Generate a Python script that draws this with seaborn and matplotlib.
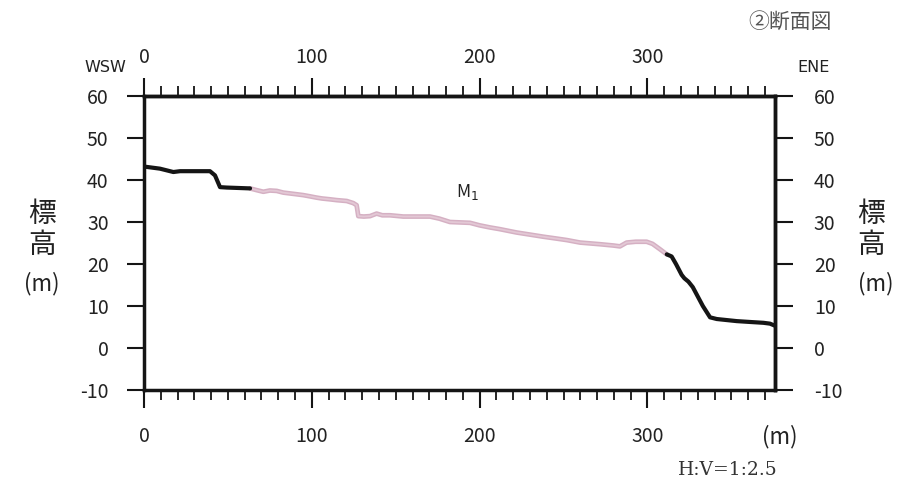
import numpy as np
import pandas as pd
import matplotlib
matplotlib.use("Agg")
import matplotlib.pyplot as plt
import seaborn as sns

# ---- data (distance in m, elevation in m) ----
west_x = [0, 9.5, 17.5, 21.5, 39.3, 42.3, 45.3, 49.3, 63.2]
west_y = [43.2, 42.7, 41.9, 42.1, 42.1, 41.1, 38.3, 38.2, 38.0]

terrace_x = [63.2, 67, 71.1, 75, 79.1, 83, 87.0, 91, 94.9, 99, 102.9, 106, 110.8,
             115, 120.8, 124.7, 126.7, 127.7, 131, 134.7, 138.6, 142, 146.6, 154.5,
             162, 170.4, 176, 182.3, 188.3, 194.3, 200, 206.2, 212, 222, 230, 237.9,
             245, 251.9, 259.9, 266, 272, 279.7, 283.6, 287.6, 293, 299.5, 303,
             307.5, 311.5]
terrace_y = [38.0, 37.6, 37.2, 37.5, 37.4, 37.0, 36.8, 36.6, 36.4, 36.1, 35.8, 35.6,
             35.4, 35.2, 35.0, 34.5, 34.0, 31.4, 31.3, 31.4, 32.0, 31.6, 31.6, 31.3,
             31.3, 31.3, 30.8, 30.0, 29.9, 29.8, 29.2, 28.7, 28.3, 27.5, 27.0, 26.5,
             26.1, 25.7, 25.1, 24.9, 24.7, 24.4, 24.2, 25.1, 25.3, 25.3, 24.8, 23.5,
             22.3]

east_x = [311.5, 314.4, 317, 320.4, 322, 324.4, 327, 329.4, 333, 337.3, 341.3,
          353.2, 361, 369.1, 373, 376]
east_y = [22.3, 21.8, 20.0, 17.4, 16.6, 15.8, 14.5, 12.7, 10.0, 7.3, 6.9, 6.4,
          6.2, 6.0, 5.8, 5.3]

x_major = [0, 100, 200, 300]
x_minor = [v for v in range(10, 371, 10) if v % 100 != 0]
y_major = [-10, 0, 10, 20, 30, 40, 50, 60]

terrace_label = "M$_1$"
terrace_label_pos = (193, 37.1)

# ---- figure ----
sns.set_theme(style="white")
plt.rcParams["font.family"] = ["Noto Sans CJK JP", "DejaVu Sans"]
plt.rcParams["axes.unicode_minus"] = False

W, H = 905, 484
fig = plt.figure(figsize=(W / 100, H / 100), dpi=100)
fig.patch.set_facecolor("white")
ax = fig.add_axes([144 / W, (H - 390) / H, 631 / W, 294 / H])
ax.set_facecolor("white")

df_w = pd.DataFrame({"x": west_x, "y": west_y})
df_t = pd.DataFrame({"x": terrace_x, "y": terrace_y})
df_e = pd.DataFrame({"x": east_x, "y": east_y})

sns.lineplot(data=df_t, x="x", y="y", ax=ax, color="#d5b0c3", lw=3.4,
             estimator=None, sort=False, zorder=3)
sns.lineplot(data=df_t, x="x", y="y", ax=ax, color="#e3c8d5", lw=1.3,
             estimator=None, sort=False, zorder=3)
sns.lineplot(data=df_w, x="x", y="y", ax=ax, color="#151515", lw=3.0,
             estimator=None, sort=False, zorder=4)
sns.lineplot(data=df_e, x="x", y="y", ax=ax, color="#151515", lw=3.0,
             estimator=None, sort=False, zorder=4)

ax.set_xlim(0, 376)
ax.set_ylim(-10, 60)
ax.set_xlabel("")
ax.set_ylabel("")

tc = "#222222"
for s in ax.spines.values():
    s.set_visible(True)
    s.set_linewidth(2.5)
    s.set_color("#151515")

# bottom x axis
ax.set_xticks(x_major)
ax.set_xticks(x_minor, minor=True)
ax.tick_params(axis="x", which="major", direction="out", length=12.7, width=1.5,
               color="#151515", bottom=True, top=False, labelsize=14, pad=13,
               labelcolor=tc)
ax.tick_params(axis="x", which="minor", direction="out", length=7, width=1.3,
               color="#151515", bottom=True, top=False)
# left y axis
ax.set_yticks(y_major)
ax.tick_params(axis="y", which="major", direction="out", length=12, width=1.5,
               color="#151515", left=True, right=False, labelsize=14, pad=13.5,
               labelcolor=tc)

# top x axis
secx = ax.secondary_xaxis("top")
secx.set_xticks(x_major)
secx.set_xticks(x_minor, minor=True)
secx.tick_params(axis="x", which="major", direction="out", length=13, width=1.5,
                 color="#151515", labelsize=14, pad=7.5, labelcolor=tc)
secx.tick_params(axis="x", which="minor", direction="out", length=7, width=1.3,
                 color="#151515")
secx.spines["top"].set_linewidth(2.5)

# right y axis
secy = ax.secondary_yaxis("right")
secy.set_yticks(y_major)
secy.tick_params(axis="y", which="major", direction="out", length=13, width=1.5,
                 color="#151515", labelsize=14, pad=15, labelcolor=tc)
secy.spines["right"].set_linewidth(2.5)

# label on the profile
ax.text(terrace_label_pos[0], terrace_label_pos[1], terrace_label, fontsize=12.5,
        ha="center", va="center", color="#222222")


def ftext(px, py, s, **kw):
    fig.text(px / W, 1 - py / H, s, **kw)


# axis titles (stacked vertically)
for cx in (42, 871):
    ftext(cx, 214, "標", fontsize=20, ha="center", va="center", color=tc)
    ftext(cx, 245, "高", fontsize=20, ha="center", va="center", color=tc)
    ftext(cx + (0 if cx < 100 else 5), 284, "(m)", fontsize=16, ha="center",
          va="center", color=tc)

ftext(780, 437, "(m)", fontsize=16, ha="center", va="center", color=tc)
ftext(105.5, 68, "WSW", fontsize=11.5, ha="center", va="center", color=tc,
      family=["Liberation Sans Narrow", "DejaVu Sans"])
ftext(814, 68, "ENE", fontsize=11.5, ha="center", va="center", color=tc,
      family=["Liberation Sans Narrow", "DejaVu Sans"])
ftext(790, 22, "②断面図", fontsize=15, ha="center", va="center", color="#555555")
ftext(728, 470, "H:V=1:2.5", fontsize=13.5, ha="center", va="center",
      color="#333333", family=["DejaVu Serif"])

fig.savefig("out.png", dpi=100, facecolor="white")
